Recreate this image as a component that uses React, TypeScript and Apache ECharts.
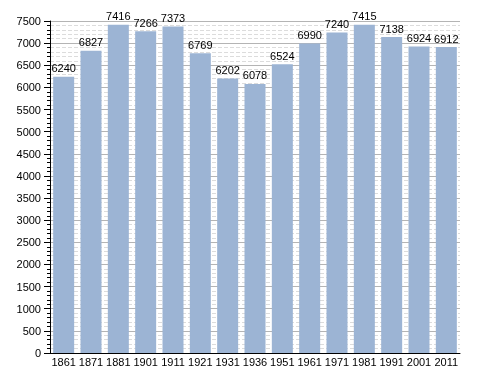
import React, { useEffect, useRef } from "react";
import * as echarts from "echarts";

const categories = ["1861","1871","1881","1901","1911","1921","1931","1936","1951","1961","1971","1981","1991","2001","2011"];
const population = [6240,6827,7416,7266,7373,6769,6202,6078,6524,6990,7240,7415,7138,6924,6912];
const yMin = 0;
const yMax = 7500;
const yInterval = 500;

export default function App() {
  const ref = useRef<HTMLDivElement>(null);
  useEffect(() => {
    if (!ref.current) return;
    const chart = echarts.init(ref.current, null, { renderer: "svg" });
    chart.setOption({
      animation: false,
      grid: { left: 50, right: 28, top: 21, bottom: 20 },
      xAxis: {
        type: "category",
        data: categories,
        axisLine: { lineStyle: { color: "#000", width: 1 } },
        axisTick: { show: false },
        axisLabel: { color: "#000", fontSize: 11, fontFamily: "Liberation Sans, Arial", margin: 3, interval: 0 },
      },
      yAxis: {
        type: "value",
        min: yMin,
        max: yMax,
        interval: yInterval,
        axisLine: { show: true, lineStyle: { color: "#000", width: 1 } },
        axisTick: { show: true, length: 6, lineStyle: { color: "#000" } },
        minorTick: { show: true, splitNumber: 5, length: 3, lineStyle: { color: "#000" } },
        splitLine: { show: true, lineStyle: { color: "#b4b4b4", width: 1 } },
        minorSplitLine: { show: true, lineStyle: { color: "#dcdcdc", type: "dashed", width: 1 } },
        axisLabel: {
          color: "#000",
          fontSize: 11,
          fontFamily: "Liberation Sans, Arial",
          margin: 9,
          formatter: (v: number) => String(v),
        },
      },
      series: [
        {
          type: "bar",
          data: population,
          barWidth: 21,
          itemStyle: { color: "#9cb4d4" },
          label: {
            show: true,
            position: "top",
            distance: 3,
            color: "#000",
            fontSize: 11,
            fontFamily: "Liberation Sans, Arial",
          },
        },
      ],
    });
    return () => chart.dispose();
  }, []);
  return (
    <div
      ref={ref}
      style={{ position: "fixed", top: 0, left: 0, width: 488, height: 373 }}
    />
  );
}
